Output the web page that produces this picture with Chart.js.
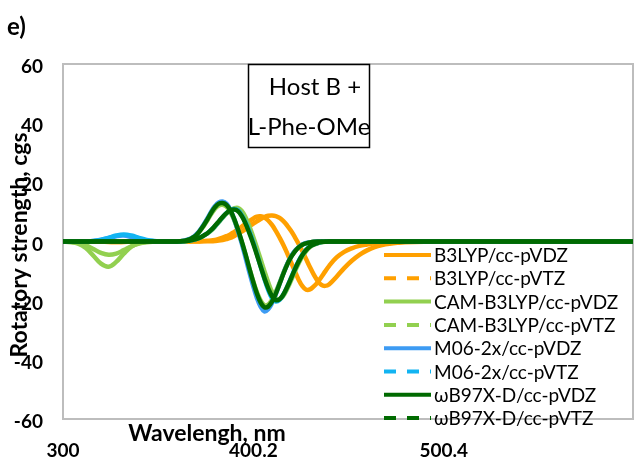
<!DOCTYPE html>
<html>
<head>
<meta charset="utf-8">
<script src="https://cdn.jsdelivr.net/npm/chart.js@4.4.1/dist/chart.umd.min.js"></script>
<style>
  html, body { margin: 0; padding: 0; background: #ffffff; }
  canvas { display: block; }
</style>
</head>
<body>
<canvas id="cd" width="635" height="459"></canvas>
<script>
// Wavelength grid (nm) on which the broadened spectra are tabulated
const wavelength = [
  300,304,308,312,316,320,324,328,332,336,340,344,348,352,356,360,
  364,366,368,370,372,374,376,378,380,382,384,386,388,390,392,394,396,398,400,
  402,404,406,408,410,412,414,416,418,420,422,424,426,428,430,432,434,436,438,440,
  444,448,452,456,460,464,468,472,476,480,
  500,520,540,560,580,600
];

// Rotatory strength (cgs) for each functional / basis set
const b3lypVDZ = [
  0,0,0,0,0,-0.05,-0.15,-0.2,-0.15,-0.05,0,0,0,0,0,0,
  0.02,0.03,0.05,0.07,0.1,0.15,0.22,0.32,0.55,0.9,1.3,1.8,2.4,3.2,4.1,5.0,6.0,6.9,7.7,
  8.4,8.5,8.1,7.1,5.6,3.6,1.3,-1.2,-4.0,-7.0,-10.0,-12.9,-15.1,-16.3,-16.2,-15.2,-13.8,-12.0,-10.1,-8.3,
  -5.4,-3.5,-2.3,-1.5,-1.0,-0.6,-0.35,-0.2,-0.1,-0.05,
  0,0,0,0,0,0
];
const b3lypVTZ = [
  0,0,0,0,0,-0.05,-0.12,-0.18,-0.12,-0.05,0,0,0,0,0,0,
  0.01,0.01,0.02,0.03,0.04,0.05,0.07,0.1,0.18,0.3,0.5,0.8,1.2,1.8,2.5,3.3,4.2,5.1,6.0,
  6.8,7.6,8.3,8.7,8.8,8.6,8.0,6.9,5.4,3.6,1.5,-0.8,-3.3,-6.0,-8.7,-11.2,-13.3,-14.7,-15.0,-14.5,
  -11.9,-9.0,-6.5,-4.5,-3.0,-1.9,-1.2,-0.75,-0.45,-0.25,
  0,0,0,0,0,0
];
const camVDZ = [
  -0.04,-0.17,-0.53,-1.33,-2.56,-3.84,-4.5,-4.1,-2.9,-1.6,-0.69,-0.23,-0.06,-0.01,0,0,
  0.3,0.5,1.1,2.0,3.4,5.2,7.2,9.3,11.1,12.2,12.4,11.8,10.0,7.4,3.9,0,-4.4,-8.9,-13.2,
  -17.0,-19.9,-21.5,-21.3,-19.6,-17.0,-13.9,-10.6,-7.6,-5.2,-3.3,-2.0,-1.1,-0.6,-0.3,-0.1,0,0,0,0,
  0,0,0,0,0,0,0,0,0,0,
  0,0,0,0,0,0
];
const camVTZ = [
  -0.03,-0.18,-0.73,-2.2,-4.8,-7.5,-8.5,-6.9,-4.1,-1.7,-0.53,-0.12,-0.02,0,0,0,
  0.12,0.25,0.45,0.8,1.3,1.9,2.7,3.7,5.0,6.5,8.0,9.4,10.5,11.2,11.4,10.4,8.3,5.3,1.8,
  -2.0,-6.0,-10.0,-13.8,-17.0,-19.1,-19.5,-18.3,-16.0,-13.2,-10.2,-7.4,-5.0,-3.2,-1.9,-1.1,-0.6,-0.3,-0.1,0,
  0,0,0,0,0,0,0,0,0,0,
  0,0,0,0,0,0
];
const m06VDZ = [
  0,0,0.01,0.05,0.2,0.6,1.2,1.8,2.0,1.5,0.8,0.3,0.1,0.02,0,0,
  0.34,0.7,1.3,2.3,3.8,5.7,7.8,10.1,12.0,13.2,13.5,12.8,10.8,7.7,3.8,-0.5,-5.3,-10.2,-14.8,
  -19.0,-22.0,-23.6,-22.9,-20.8,-17.8,-14.3,-10.8,-7.7,-5.1,-3.2,-1.9,-1.0,-0.5,-0.3,-0.1,0,0,0,0,
  0,0,0,0,0,0,0,0,0,0,
  0,0,0,0,0,0
];
const m06VTZ = [
  0,0,0.01,0.05,0.18,0.55,1.25,2.04,2.4,2.04,1.25,0.55,0.18,0.05,0,0,
  0.12,0.25,0.45,0.8,1.3,2.0,2.8,3.9,5.2,6.7,8.2,9.6,10.6,11.0,10.6,9.0,6.6,3.6,0,
  -4.1,-8.4,-12.6,-16.4,-19.2,-20.3,-19.7,-17.9,-15.3,-12.3,-9.3,-6.6,-4.4,-2.7,-1.6,-0.9,-0.5,-0.2,-0.1,0,
  0,0,0,0,0,0,0,0,0,0,
  0,0,0,0,0,0
];
const wb97xdVDZ = [
  0,0,0,0,0,0,0,0,0,0,0,0,0,0,0,0,
  0.3,0.6,1.2,2.1,3.6,5.4,7.5,9.7,11.6,12.8,13.0,12.4,10.6,7.8,4.2,0.2,-4.2,-8.9,-13.4,
  -17.5,-20.6,-22.2,-22.0,-20.3,-17.6,-14.3,-10.9,-7.8,-5.3,-3.4,-2.0,-1.1,-0.6,-0.3,-0.1,0,0,0,0,
  0,0,0,0,0,0,0,0,0,0,
  0,0,0,0,0,0
];
const wb97xdVTZ = [
  0,0,0,0,0,0,0,0,0,0,0,0,0,0,0,0,
  0.12,0.25,0.45,0.8,1.3,2.0,2.8,3.9,5.3,6.8,8.3,9.6,10.5,10.8,10.3,8.7,6.2,3.0,-0.5,
  -4.4,-8.4,-12.3,-15.8,-18.5,-19.8,-19.5,-17.9,-15.4,-12.5,-9.5,-6.8,-4.6,-2.9,-1.7,-1.0,-0.5,-0.2,-0.1,0,
  0,0,0,0,0,0,0,0,0,0,
  0,0,0,0,0,0
];

const seriesLabels = [
  'B3LYP/cc-pVDZ', 'B3LYP/cc-pVTZ',
  'CAM-B3LYP/cc-pVDZ', 'CAM-B3LYP/cc-pVTZ',
  'M06-2x/cc-pVDZ', 'M06-2x/cc-pVTZ',
  'ωB97X-D/cc-pVDZ', 'ωB97X-D/cc-pVTZ'
];
const seriesValues = [b3lypVDZ, b3lypVTZ, camVDZ, camVTZ, m06VDZ, m06VTZ, wb97xdVDZ, wb97xdVTZ];
const seriesColors = ['#FFA000', '#FFA000', '#92D050', '#92D050', '#3D9BF3', '#12B4F2', '#006A00', '#006A00'];
const seriesDashed = [false, true, false, true, false, true, false, true];

const xTickValues = [300, 400.2, 500.4];
const xTickLabels = ['300', '400.2', '500.4'];
const yMin = -60, yMax = 60, yStep = 20;

const FONT = 'Lato, "Open Sans", "DejaVu Sans", sans-serif';

const datasets = seriesValues.map((vals, i) => ({
  label: seriesLabels[i],
  data: wavelength.map((w, k) => ({ x: w, y: vals[k] })),
  borderColor: seriesColors[i],
  backgroundColor: seriesColors[i],
  borderWidth: 4.5,
  pointRadius: 0,
  tension: 0.4,
  fill: false,
  order: seriesValues.length - i   // later series are painted on top
}));

// Frame, panel letter, axis titles, annotation box and legend
const decorations = {
  id: 'decorations',
  beforeDatasetsDraw(chart) {
    const { ctx, chartArea: a } = chart;
    ctx.save();
    ctx.strokeStyle = '#BDBDBD';
    ctx.lineWidth = 2;
    ctx.strokeRect(a.left, a.top, a.right - a.left, a.bottom - a.top);
    ctx.restore();
  },
  afterDraw(chart) {
    const { ctx } = chart;
    ctx.save();
    ctx.fillStyle = '#000';

    // panel letter
    ctx.font = 'bold 24px ' + FONT;
    ctx.textAlign = 'left';
    ctx.textBaseline = 'alphabetic';
    ctx.fillText('e)', 7, 35);

    // axis titles
    ctx.font = 'bold 23px ' + FONT;
    ctx.textAlign = 'center';
    ctx.fillText('Wavelengh, nm', 207, 441);

    ctx.save();
    ctx.translate(27, 245);
    ctx.rotate(-Math.PI / 2);
    ctx.textBaseline = 'alphabetic';
    ctx.fillText('Rotatory strength, cgs', 0, 0);
    ctx.restore();

    // annotation box
    ctx.fillStyle = '#fff';
    ctx.fillRect(248, 64, 122, 84);
    ctx.strokeStyle = '#000';
    ctx.lineWidth = 1.5;
    ctx.strokeRect(248.5, 64.5, 121, 83);
    ctx.fillStyle = '#000';
    ctx.font = '24px ' + FONT;
    ctx.textAlign = 'center';
    ctx.textBaseline = 'middle';
    ctx.fillText('Host B +', 315, 87);
    ctx.fillText('L-Phe-OMe', 309, 127);

    // legend
    const x0 = 384, x1 = 431, top = 255, step = 23.3;
    ctx.font = '19px ' + FONT;
    ctx.textAlign = 'left';
    ctx.textBaseline = 'middle';
    chart.data.datasets.forEach((ds, i) => {
      const y = top + i * step;
      ctx.beginPath();
      ctx.strokeStyle = ds.borderColor;
      ctx.lineWidth = 4;
      ctx.setLineDash(seriesDashed[i] ? [12, 11] : []);
      ctx.moveTo(x0, y);
      ctx.lineTo(x1, y);
      ctx.stroke();
      ctx.setLineDash([]);
      ctx.fillStyle = '#000';
      ctx.fillText(ds.label, x1 + 3, y + 1);
    });
    ctx.restore();
  }
};

new Chart(document.getElementById('cd'), {
  type: 'line',
  data: { datasets },
  plugins: [decorations],
  options: {
    responsive: false,
    animation: false,
    devicePixelRatio: 1,
    layout: { padding: { top: 64, right: 2, bottom: 0, left: 0 } },
    plugins: { legend: { display: false }, tooltip: { enabled: false } },
    scales: {
      x: {
        type: 'linear',
        min: 300,
        max: 600,
        afterBuildTicks: s => { s.ticks = xTickValues.map(v => ({ value: v })); },
        afterFit: s => { s.height = 40; },
        grid: { display: false, drawTicks: false },
        border: { display: false },
        ticks: {
          autoSkip: false,
          maxRotation: 0,
          padding: 20,
          color: '#000',
          font: { family: FONT, size: 19, weight: 'bold' },
          callback: (v, i) => xTickLabels[i]
        }
      },
      y: {
        min: yMin,
        max: yMax,
        afterFit: s => { s.width = 63; },
        grid: { display: false, drawTicks: false },
        border: { display: false },
        ticks: {
          stepSize: yStep,
          padding: 20,
          labelOffset: 3,
          color: '#000',
          font: { family: FONT, size: 19, weight: 'bold' }
        }
      }
    }
  }
});
</script>
</body>
</html>
